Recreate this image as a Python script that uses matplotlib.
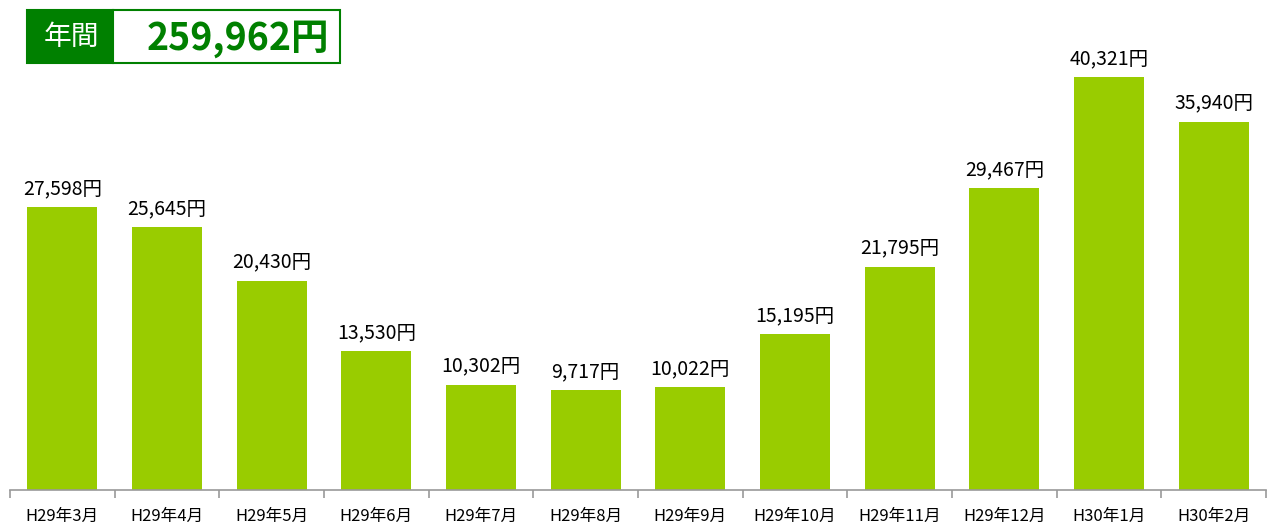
import matplotlib
matplotlib.use("Agg")
import matplotlib.pyplot as plt
from matplotlib.patches import Rectangle

plt.rcParams['font.family'] = ['Noto Sans CJK JP', 'DejaVu Sans']

months = ["H29年3月", "H29年4月", "H29年5月", "H29年6月", "H29年7月", "H29年8月",
          "H29年9月", "H29年10月", "H29年11月", "H29年12月", "H30年1月", "H30年2月"]
costs = [27598, 25645, 20430, 13530, 10302, 9717, 10022, 15195, 21795, 29467, 40321, 35940]
total_label = "259,962円"

W, H = 1275, 527
fig = plt.figure(figsize=(W / 100, H / 100), dpi=100)
ax = fig.add_axes([10 / W, 37 / H, 1256 / W, 490 / H])

x = range(len(months))
ax.bar(x, costs, width=0.67, color="#99CC00")
for i, v in zip(x, costs):
    ax.text(i, v + 800, f"{v:,}円", ha="center", va="bottom", fontsize=14)

ax.set_xlim(-0.5, len(months) - 0.5)
ax.set_ylim(0, 47850)
ax.set_yticks([])
for s in ["top", "right", "left"]:
    ax.spines[s].set_visible(False)
ax.spines["bottom"].set_color("#999999")
ax.spines["bottom"].set_linewidth(1.2)

# category boundaries as tick marks, labels centered under bars
ax.set_xticks([i - 0.5 for i in range(len(months) + 1)])
ax.set_xticklabels([])
ax.tick_params(axis="x", which="major", length=6, color="#999999", width=1.2)
ax.set_xticks(list(x), minor=True)
ax.set_xticklabels(months, minor=True, fontsize=12)
ax.tick_params(axis="x", which="minor", length=0, pad=13)

# annual total box
fig.patches.append(Rectangle((27 / W, 1 - 63 / H), 86 / W, 53 / H,
                             transform=fig.transFigure, facecolor="#008000",
                             edgecolor="#008000", linewidth=1.5))
fig.patches.append(Rectangle((113 / W, 1 - 63 / H), 227 / W, 53 / H,
                             transform=fig.transFigure, facecolor="white",
                             edgecolor="#008000", linewidth=1.5))
fig.text(71 / W, 1 - 37 / H, "年間", color="white", fontsize=20,
         ha="center", va="center")
fig.text(329 / W, 1 - 38 / H, total_label, color="#008000", fontsize=27,
         fontweight="bold", ha="right", va="center")

fig.savefig("out.png", dpi=100)
